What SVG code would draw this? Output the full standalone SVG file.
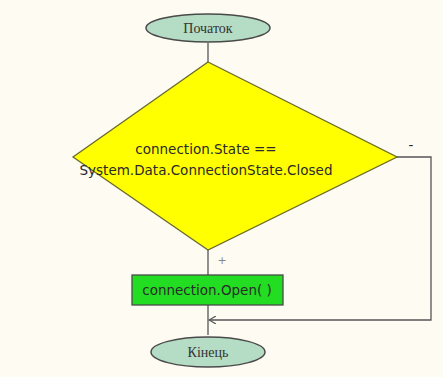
<svg xmlns="http://www.w3.org/2000/svg" width="443" height="377" viewBox="0 0 443 377">
<defs>
<style>
.term{fill:#b5dcc4;stroke:#4a4a4a;stroke-width:1.5}
.tt{font-family:"Liberation Serif",serif;font-size:14px;fill:#333;text-anchor:middle}
.st{font-family:"DejaVu Sans",sans-serif;font-size:13.5px;fill:#2a2a2a;text-anchor:middle}
.ln{fill:none;stroke:#555;stroke-width:1.3}
</style>
<marker id="ah" markerWidth="8" markerHeight="8" refX="7" refY="4" orient="auto" markerUnits="userSpaceOnUse">
<path d="M0,0 L7,4 L0,8" fill="none" stroke="#555" stroke-width="1.2"/>
</marker>
</defs>
<rect width="443" height="377" fill="#fdfbf2"/>
<g id="connectors">
<path class="ln" d="M208,43 V62"/>
<path class="ln" d="M208,250 V275"/>
<path class="ln" d="M208,305 V335"/>
<path class="ln" d="M397,157 H431 V320 H209" marker-end="url(#ah)"/>
<text x="411" y="150" class="st" font-size="11">-</text>
<text x="222" y="264" class="st" style="font-size:11px;fill:#888">+</text>
</g>
<g id="start">
<ellipse class="term" cx="208" cy="28" rx="62" ry="14"/>
<text x="208" y="33" class="tt">Початок</text>
</g>
<g id="decision">
<polygon points="208,62 397,157 208,250 73,157" fill="#ffff00" stroke="#6b6b2a" stroke-width="1.3"/>
<text x="206" y="154" class="st">connection.State ==</text>
<text x="206" y="175" class="st">System.Data.ConnectionState.Closed</text>
</g>
<g id="open">
<rect x="132" y="275" width="151" height="30" fill="#22dd22" stroke="#4a4a4a" stroke-width="1.3"/>
<text x="207" y="295" class="st">connection.Open( )</text>
</g>
<g id="end">
<ellipse class="term" cx="208" cy="352" rx="57" ry="15"/>
<text x="208" y="357" class="tt">Кінець</text>
</g>
</svg>
